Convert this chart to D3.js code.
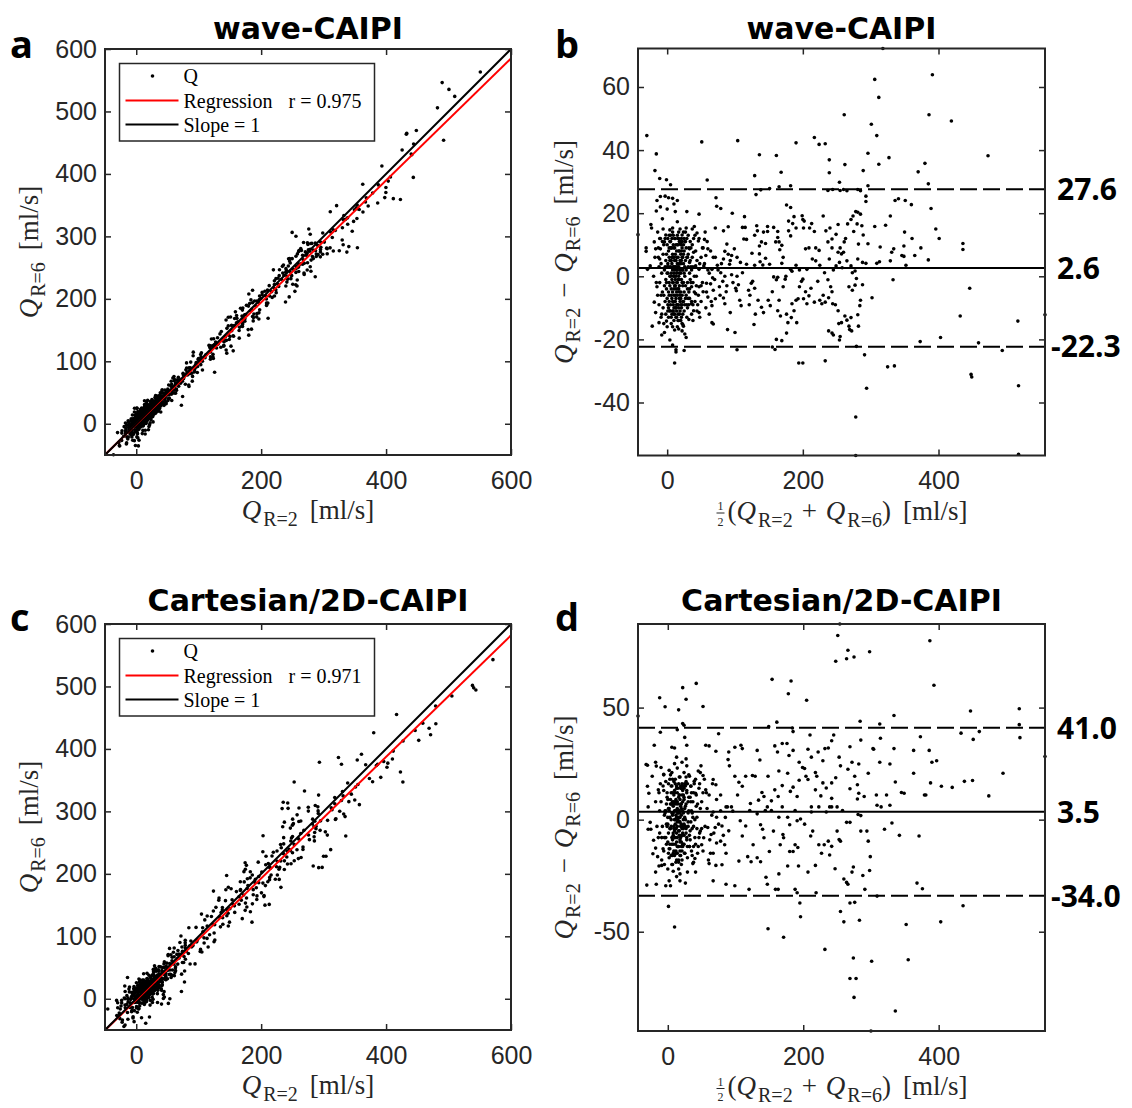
<!DOCTYPE html>
<html>
<head>
<meta charset="utf-8">
<script src="https://cdn.jsdelivr.net/npm/d3@7"></script>
<style>
  body { margin: 0; background: #fff; }
  .axis text { font-family: "Liberation Sans", Arial, sans-serif; font-size: 25px; fill: #262626; }
  .axis line { stroke: #262626; stroke-width: 1.5; }
  .frame { fill: none; stroke: #262626; stroke-width: 2; }
  .title { font-family: "DejaVu Sans", sans-serif; font-weight: 700; font-size: 30px; fill: #000; }
  .letter { font-family: "Open Sans", sans-serif; font-weight: 700; font-size: 38px; fill: #000; }
  .limit { font-family: "Open Sans", sans-serif; font-weight: 700; font-size: 30px; fill: #000; }
  .math { font-family: "Liberation Serif", "DejaVu Serif", serif; font-size: 27px; fill: #262626; }
  .frac { font-family: "Liberation Serif", "DejaVu Serif", serif; font-size: 12px; fill: #262626; }
  .legend text { font-family: "Liberation Serif", "DejaVu Serif", serif; font-size: 20px; fill: #000; }
</style>
</head>
<body>
<div id="chart"></div>
<script>

const baWave = [
  // above upper limit
  [-30,44.6],[-16,38.8],[-18,33.5],[-11,31],[-1,30.6],[5,29],[-43,13.2],[51,42.6],[59,30.5],[104,43],
  [136,38.5],[161,38.3],[168,33],[129,31.9],[190,42.3],[217,44],[224,41.8],[233,42],[239,36.9],[239,32.8],
  [261,51.2],[262,35.4],[254,29.8],[289,33.5],[296,39],[301,48.2],[306,62.4],[309,44.6],[312,56.7],[312,35.5],
  [296,28.7],[327,37.6],[386,51.2],[391,63.9],[380,35.8],[370,33.1],[385,29.3],[419,49.2],[473,38.2],[318,72.2],
  [138,27.4],[151,27.8],[165,28.4],[182,28.7],[237,27.2],[244,27.5],[255,27.2],[260,27.5],[265,27.1],[285,27.1],
  [281,27.5],[293,25.4],[293,23.7],
  // between mean and upper limit
  [-31,7.9],[-31,9],[-24,16.4],[-23,15.3],[-19,10.9],[-17,8.7],[-15,24],[-16,20.7],[-14,14],[-10,22],
  [-7,18.2],[-10,25.3],[-3,25.4],[2,24.9],[8,24.7],[10,22.9],[15,24],[12,20.5],[0,21.3],[29,20.5],
  [37,15],[40,15.8],[47,19.7],[55,11.7],[60,8.7],[57,6.6],[72,24.9],[73,22.2],[79,21.5],[71,15.3],
  [83,14.4],[90,15.7],[96,20],[88,10.2],[85,7.9],[95,6.6],[99,8.7],[114,18.9],[111,15.5],[115,15.5],
  [113,11.8],[117,11.7],[129,13],[131,25.9],[125,7.3],[132,16],[133,14.4],[136,9.6],[136,7.1],[139,10.9],
  [142,14],[148,14.2],[145,10.4],[148,15.8],[157,15.5],[160,10.9],[163,14.2],[163,12.3],[165,10.9],[166,8.4],
  [169,9.8],[171,6],[176,22.6],[182,21.8],[179,17.5],[179,14.4],[182,12.8],[185,16.7],[187,18.9],[190,15.3],
  [199,19.2],[200,18],[201,15.3],[202,17.5],[204,8.7],[209,9],[210,15.3],[213,16.7],[217,14.2],[219,9],
  [224,8.2],[230,19.1],[234,14.4],[237,10.9],[240,15.3],[243,11.8],[243,9],[249,13.3],[252,16.4],[252,7.6],
  [255,9],[260,7.6],[257,7.1],[261,10.9],[263,12],[266,16.6],[271,18],[274,19.1],[278,20.5],[281,20.3],
  [285,19.7],[287,16],[289,13.1],[275,14.2],[280,16.6],[282,10.2],[296,10.3],[306,15.8],[314,9.3],[322,16.2],
  [329,19.1],[331,7.6],[334,8.7],[336,24],[341,24.6],[349,9.6],[350,14],[351,24],[360,22.7],[349,6.3],
  [361,12],[374,9],[396,15],[401,12],[436,10.4],[436,8.5],[389,21.5],[385,5.2],[365,6.6],[352,3.5],
  // around the mean
  [47,2.2],[54,3.3],[60,2],[66,2.2],[74,3.5],[79,1.1],[92,3.8],[95,0.5],[103,0],[108,4.4],
  [111,1.1],[117,3.8],[129,3.5],[137,4.6],[141,3.6],[145,5.7],[151,3.8],[157,-0.2],[163,-0.3],[169,4.1],
  [175,0],[182,2.2],[184,1.6],[190,3.5],[195,2],[200,-0.9],[206,2.2],[214,5.5],[219,4.9],[225,3.5],
  [232,1.1],[239,5.5],[245,2],[249,3.3],[254,4.4],[258,2.7],[265,4.9],[271,3.3],[273,1.1],[277,1.7],
  [281,5.5],[288,4.4],[293,4.1],[309,4.1],[313,4.6],[329,4.9],[346,6.6],
  // below the mean
  [47,-3.3],[53,-4.9],[58,-2.2],[60,-6.6],[66,-9.3],[68,-4.4],[71,-7.1],[77,-3.3],[82,-1.6],[85,-8.7],
  [87,-4.9],[66,-14.7],[68,-15.1],[89,-16.9],[93,-11.5],[100,-17.8],[101,-3.8],[102,-4.6],[105,-2.7],[107,-7.6],
  [109,-9.3],[120,-4.4],[122,-6],[124,-2.2],[126,-1.6],[129,-3.8],[130,-12],[128,-15.3],[121,-9],[134,-7.6],
  [139,-9.8],[142,-11.5],[149,-7.6],[152,-9.3],[155,-4.9],[161,-1.1],[165,-7.6],[163,-10.9],[167,-12.6],[171,-3.3],
  [174,-0.9],[176,-12],[178,-14.7],[176,-18],[183,-13.1],[184,-8.7],[187,-10.9],[191,-14.7],[190,-7.6],[193,-7.1],
  [195,-3.3],[198,-1.6],[201,-7.1],[204,-4.9],[206,-8.7],[209,-6.2],[212,-3.8],[217,-8.2],[222,-1.6],[225,-7.6],
  [228,-8.7],[230,-6],[233,-8.2],[237,-1.1],[238,-6.8],[241,-3.3],[243,-4.9],[244,-8.7],[248,-9],[252,-10.9],
  [238,-17.3],[243,-18],[245,-18.6],[254,-20.2],[255,-19.1],[253,-15],[257,-14.7],[262,-12.6],[265,-13.9],[268,-15.8],
  [269,-16.9],[272,-17.3],[271,-13.1],[268,-3.3],[273,-4.4],[277,-2.8],[279,-0.7],[281,-12.2],[284,-9.3],[285,-7.6],
  [282,-15.8],[288,-2.7],[302,-6.8],[333,-1.1],[446,-3.8],[432,-12.6],[403,-19.4],[373,-20.7],[459,-21.1],[494,-23.5],
  [517,-14.2],[557,-12.2],[448,-31.1],[449,-31.9],[518,-34.7],[518,-56.4],[194,-27.5],[200,-27.5],[233,-26.8],[155,-22.4],
  [161,-20],[169,-20.4],[159,-23.2],[103,-23.3],[279,-22.2],[291,-24.9],[294,-35.5],[278,-44.6],[278,-56.8],[325,-28.7],
  [335,-28.4],
  // low-flow cluster, outer points
  [-22,-15.8],[-19,-8.2],[-17,-11.5],[-15,-3.3],[-20,0],[-25,3.3],[-29,2.2],[-12,-14.7],[-8,-12],[-8,-18.6],
  [-4,-17.8],[4,-20.2],[8,-21.8],[11,-27.5],[13,-24],[13,-23.3],[25,-23.5],[28,-19.4],[26,-18.3],[24,-15.8],
  [32,-13.7],[39,-10.9],[47,-11.5],[36,-8.7],[23,-15.3],[17,-16.7],[22,-17.3],[-1,-14.2],[4,-10.9],[28,15.3],
  [22,13.1],[17,12],[4,14.7],[-2,13.1],[-4,10.9],[-10,8.7],[-11,5.5],[1,12],[8,15.3],[15,17.3],
  [20,10.4],[33,8.7],[39,7.6],[33,4.4],[42,3.3],[43,0],[36,-3.3],[42,-5.5],
  [46,11.2],[59,11],[64,8],[71,6],[83,5.5],[93,5],[103,6],[64,-2.4],[67,-0.5],[83,-6.9],
  [50,6],[52,-2],[55,4],[58,-5],[62,1],[65,-8],[68,6],[70,-1],[75,2],[78,-6],
  [80,4],[85,0],[88,-3],[90,7],[97,-2],[50,-8],[53,9],[57,-10],[44,13.7],[48,-13],[56,14],[62,-12],
  [-14,-6],[-12,3],[-9,-13],[-7,11],[-5,-15],[-13,9],[-16,-2],[-18,6],[46,-6],[48,4],
  [50,-3],[52,9],[44,-11],[47,12],[-6,15],[0,-16],[38,-14],[41,13],[-9,-6],[-11,12],
  // low-flow cluster, core
  [2,-5],[5,3],[8,-2],[10,6],[12,-8],[14,1],[6,9],[9,-11],[15,4],[18,-3],[20,7],[22,-6],[11,2],[13,-4],[16,10],
  [7,-7],[4,0],[3,6],[17,-10],[19,2],[21,-1],[24,4],[26,-9],[25,8],[23,-12],[1,-9],[0,3],[-2,5],[-4,-3],[-6,7],
  [-8,1],[-3,-8],[28,2],[30,-4],[27,11],[29,6],[31,-7],[33,1],[35,-2],[32,9],[10,-14],[12,12],[14,-13],[8,14],
  [6,-13],[16,-12],[18,11],[20,-14],[9,0],[11,-3],[13,5],[15,-6],[17,3],[19,-8],[21,5],[7,4],[5,-9],[3,-2],[2,8],
  [4,11],[6,-4],[8,7],[10,-6],[12,3],[14,8],[16,-1],[18,-5],[20,1],[22,9],[24,-2],[26,3],[9,-9],[11,9],[13,-10],
  [15,13],[17,-14],[19,-11],[21,12],[23,6],[25,-5],[27,-7],[10,1],[12,-1],[14,-5],[16,6],[18,4],[13,-7],[11,5],
  [9,3],[7,-1],[5,5],[3,-6],[1,1],[-1,-4],[-5,10],[-7,-5],[-9,4],[-11,-2],[-13,6],[-12,-9],[-10,12],[30,-10],
  [34,5],[36,-8],[38,3],[40,-5],[37,10],[29,-13],[31,13],[24,14],[22,-15],[15,-16],[11,-17],[19,15],[8,-16],[5,13],
  [2,-13],[0,10],[-2,-12],[14,2],[12,7],[10,-10],[16,-4],[18,8],[20,-9],[22,2],[17,0],[15,-2],[13,0],[11,-12],
  [9,10],[7,12],[6,1],[4,-11],[3,9],
  [-6,-10],[-5,-6],[-4,2],[-3,12],[-2,-1],[-1,7],[0,-7],[1,4],[2,-10],[3,13],[4,-3],[5,9],[6,-15],[7,6],[8,-5],
  [9,13],[10,-12],[11,0],[12,-6],[13,10],[14,-9],[15,2],[16,-14],[17,8],[18,-1],[19,11],[20,-5],[21,-10],[22,6],
  [23,-3],[24,10],[25,-11],[26,0],[27,5],[28,-6],[29,12],[30,-2],[31,7],[32,-9],[33,-4],[34,11],[35,3],[36,-12],
  [37,6],[38,-2],[39,12],[40,0],[41,-8],[42,8],[43,-3],[44,5],[45,-9],
  [0,1],[2,3],[4,5],[6,-6],[8,-8],[10,3],[12,-10],[14,6],[16,3],[18,-12],[20,4],[22,-9],[24,-8],[26,11],[28,9],
  [30,6],[32,-5],[34,-1],[36,2],[38,-9],[-3,3],[-1,-2],[1,-11],[3,-8],[5,0],[7,9],[9,-2],[11,-8],[13,3],[15,10],
  [17,-4],[19,-6],[21,8],[23,2],[25,1],[27,-3],[29,-9],[31,3],[33,-7],[35,9],
  [5,11],[7,-12],[9,6],[11,12],[13,-13],[15,-9],[17,14],[19,5],[21,-13],[23,-8],[25,12],[27,14],[8,2],[10,9],
  [12,-3],[14,-11],[16,12],[18,-7],[20,10],[22,-2],[6,5],[8,-11],[10,-4],[12,5],[14,-2],[16,-9],[18,1],[20,-7],
  [22,11],[24,7]
];

const baCart = [
  // above upper limit
  [254,87.3],[251,82.2],[248,70.7],[266,75.6],[275,72.6],[264,71.8],[298,74.9],[387,79.8],[393,60],[154,62.6],
  [182,61.9],[178,56.2],[205,53.3],[22,58.9],[42,60.8],[27,53.7],[-12,54.4],[-4,50.4],[16,49],[52,50.5],
  [-44,46.2],[447,48.5],[519,49.5],[519,42.4],[520,36.6],[557,28.2],[460,39.3],[433,38.6],[451,35.8],[334,46.5],
  [313,42.7],[314,36.3],[284,43.9],[373,37],[161,43.5],[149,41.5],[184,40.9],[185,39.3],[22,42.9],[24,42.1],
  // between mean and upper limit
  [25,36.7],[28,33.2],[14,40.1],[-11,39],[-20,33.2],[6,32.3],[10,32],[-32,24.6],[-17,23.9],[56,33.2],
  [61,32.9],[71,30.5],[75,38.3],[90,30.2],[99,32.3],[108,33.2],[110,31.7],[132,30.9],[136,26.6],[148,19.4],
  [158,32.9],[162,30.2],[169,34],[176,34],[179,28.6],[185,30.9],[194,25.6],[199,23.3],[207,31.4],[210,37.8],
  [212,27.9],[218,21],[222,30.2],[229,26.3],[232,31.7],[237,32],[242,35.2],[245,37.8],[253,27.9],[255,24],
  [269,32.5],[272,25.6],[282,24.8],[285,35.5],[304,31.4],[313,25.6],[328,24.8],[334,31.7],[363,30.9],[363,20.7],
  [386,30.9],[390,25.6],[397,26.3],[495,20.7],[438,17.1],[450,17.5],[404,14.9],[420,14.4],[381,11],[388,16.4],
  [474,10.6],[336,16.8],[349,11.8],[345,12.1],[323,11],[308,11],[296,20.7],[303,31.7],[290,10.3],[280,9.2],
  [280,15.6],[276,19.4],[282,11.8],[266,22.5],[269,13.8],[248,18.7],[242,16.4],[242,9.5],[239,5.7],[234,14.1],
  [229,16.4],[226,10.6],[220,19.4],[218,13.3],[212,5.7],[207,17.9],[204,19.4],[202,22.8],[194,17.6],[191,10.3],
  [185,14.5],[181,12.6],[177,20.7],[169,15.2],[164,21.7],[163,10.3],[158,13.3],[153,8.4],[147,5.7],[142,10.3],
  [139,12.1],[134,8.7],[129,19.4],[125,19.7],[122,7.2],[115,19.4],[110,14.9],[105,16.7],[103,11],[99,19.4],
  [94,5.7],[89,26.8],[91,24],[86,5.7],[78,11],[71,15.6],[67,17.9],[61,11],[56,13.3],[52,19.7],
  [45,21.7],[49,24],[34,14.9],[41,11.8],
  // around the mean
  [67,3.4],[72,1.1],[80,-2.8],[88,5.7],[96,3.8],[107,-0.5],[115,-2.8],[121,4.1],[132,2.6],[137,-2.3],
  [144,4.1],[153,4.1],[164,1.1],[169,5.7],[177,1.1],[180,-2.3],[188,4.1],[191,-0.5],[196,0.3],[202,-2],
  [212,3.4],[223,5.7],[234,3.4],[242,5.7],[250,5.7],[258,4.1],[264,-1.2],[269,-1.2],[281,2.3],[285,1.8],
  [309,6.4],[315,5.7],[328,6.4],[320,-4.3],[331,-1.5],[342,-7],[371,-7.3],[379,11],
  // below the mean
  [59,-3.5],[64,-6.6],[70,-3.5],[72,-10.4],[78,-9.6],[84,-11.2],[86,-15],[67,-15],[61,-19.6],[71,-20.4],
  [80,-20.1],[67,-27.3],[86,-28.8],[99,-29.5],[105,-18.5],[110,-7.3],[118,-16.5],[120,-31.1],[123,-18.8],[126,-11.2],
  [132,-17],[137,-18.8],[140,-4.3],[142,-8.1],[145,-25.7],[147,-28.8],[150,-14.2],[156,-5.1],[159,-31.1],[163,-31.1],
  [164,-24.2],[166,-11.2],[170,-6.6],[171,-8.1],[177,-20.7],[180,-14.2],[185,-14.2],[188,-11.2],[192,-12.4],[193,-20.7],
  [188,-31.1],[191,-32.6],[195,-37.2],[196,-43.3],[207,-23.4],[211,-7.3],[214,-5.1],[218,-20.4],[219,-32.6],[223,-11.2],
  [227,-15],[231,-11.2],[237,-9.6],[239,-15.8],[242,-11.9],[247,-21.9],[250,-5.1],[253,-8.9],[255,-9.6],[255,-41],
  [260,-45.6],[260,-26.5],[264,-28],[266,-28.8],[269,-37.2],[272,-23.4],[274,-21.1],[276,-36.9],[274,-61.7],[278,-70.9],
  [269,-70.9],[275,-79.3],[283,-44.9],[285,-5.1],[291,-31.1],[288,-24.9],[298,-22.7],[294,-5.1],[296,-9.6],[299,-16.5],
  [301,-63.2],[300,-94.3],[309,-34.1],[232,-57.9],[148,-48.7],[171,-52.5],[336,-85.4],[352,-46.8],[355,-62.5],[368,-28.3],
  [376,-30.8],[403,-45.6],[436,-38.4],
  // low-flow cluster, outer points
  [-31,-29.2],[-17,-28.8],[-3,-29.5],[1,-38.7],[10,-47.9],[-18,-23.4],[-13,-20.7],[-18,-12.7],[-22,-15.2],[-25,-4.3],
  [-29,-4.3],[-26,-1.2],[-21,-9.2],[-15,-16.5],[-9,-20.4],[2,-27.3],[4,-29.5],[18,-27.3],[26,-28.3],[13,-25.4],
  [18,-24.2],[29,-23.4],[41,-23.4],[40,-17.3],[37,-19.6],[50,-11.2],[53,-8.1],[48,-5.1],[43,1.1],[-29,5.7],
  [-28,11.8],[-30,14.9],[-30,24.3],[-23,19.4],[-18,25.6],[-14,13.3],[-10,23.3],[-6,20.2],[6,21],[13,27.9],
  [21,25.6],[27,27.1],[28,24],[32,19.4],[39,17.1],[48,21],
  [50,8],[55,-3],[58,5],[62,-9],[65,2],[68,-6],[72,9],[75,-2],[78,4],[82,-7],
  [85,1],[90,-5],[46,14],[52,-14],[57,12],[63,-15],[47,-6],[54,18],[60,-18],[66,16],
  [-14,-8],[-12,4],[-9,-18],[-7,15],[-5,-20],[-13,12],[-16,-3],[-18,8],[46,-8],[48,5],
  [50,-4],[52,12],[44,-15],[47,16],[-6,20],[0,-22],[38,-19],[41,18],[-9,-8],[-11,16],
  // low-flow cluster, core
  [5,-3],[8,6],[10,-8],[12,2],[14,12],[16,-5],[18,9],[20,-12],[22,4],[24,-2],[6,15],[9,-14],[11,18],[13,-10],[15,7],
  [17,-1],[19,14],[21,-7],[23,11],[25,-15],[3,1],[1,-6],[0,9],[-2,-11],[-4,4],[-6,13],[-8,-3],[2,-17],[4,20],[7,-20],
  [26,6],[28,-9],[30,3],[32,-12],[34,8],[36,-4],[38,12],[27,17],[29,-17],[31,20],[10,0],[12,-4],[14,5],[16,10],
  [18,-9],[20,2],[22,-6],[11,8],[13,15],[15,-12],[17,4],[19,-3],[21,16],[9,11],[7,-9],[5,7],[3,-13],[6,3],[8,-6],
  [10,13],[12,-15],[14,-1],[16,-18],[18,19],[20,7],[22,-11],[24,9],[26,-3],[28,13],[11,-2],[13,1],[15,3],[17,-7],
  [19,6],[9,-4],[7,2],[23,0],[25,5],[27,-6],[-1,12],[-3,-8],[-5,2],[-10,8],[-12,-6],[1,16],[2,22],[8,-23],[14,23],
  [16,-22],[20,-20],[24,21],[10,25],[12,-19],[18,-14],[6,-11],[4,9],[2,5],[0,-2],[30,-1],[33,10],[35,-14],[37,1],
  [40,-8],[42,6],[15,0],[13,-6],[11,4],[17,11],[19,-16],[21,-4],[9,7],[7,18],[5,-16],[12,9],[14,-8],[16,1],[18,3],
  [20,-2],[22,13],[24,-7],[3,-4],[-2,7],[-7,-13],
  [-6,-14],[-5,-8],[-4,3],[-3,17],[-2,-2],[-1,10],[0,-10],[1,5],[2,-13],[3,18],[4,-4],[5,12],[6,-20],[7,8],[8,-7],
  [9,17],[10,-16],[11,0],[12,-8],[13,14],[14,-12],[15,3],[16,-19],[17,11],[18,-1],[19,15],[20,-7],[21,-14],[22,8],
  [23,-4],[24,14],[25,-15],[26,0],[27,7],[28,-8],[29,16],[30,-3],[31,10],[32,-12],[33,-5],[34,15],[35,4],[36,-16],
  [37,8],[38,-3],[39,16],[40,0],[41,-11],[42,11],[43,-4],[44,7],[45,-12],
  [0,1],[2,4],[4,7],[6,-8],[8,-11],[10,4],[12,-14],[14,8],[16,4],[18,-16],[20,5],[22,-12],[24,-11],[26,15],[28,12],
  [30,8],[32,-7],[34,-1],[36,3],[38,-12],[-3,4],[-1,-3],[1,-15],[3,-11],[5,0],[7,12],[9,-3],[11,-11],[13,4],[15,14],
  [17,-5],[19,-8],[21,11],[23,3],[25,1],[27,-4],[29,-12],[31,4],[33,-9],[35,12],
  [5,15],[7,-16],[9,8],[11,16],[13,-18],[15,-12],[17,19],[19,7],[21,-18],[23,-11],[25,16],[27,19],[8,3],[10,12],
  [12,-4],[14,-15],[16,16],[18,-10],[20,14],[22,-3],[6,7],[8,-15],[10,-5],[12,7],[14,-3],[16,-12],[18,1],[20,-10],
  [22,15],[24,10]
];

// Regression fits (slope, intercept) and correlation, as printed on the figure
const regWave = [0.976, -0.8];
const rWave = 0.975;
const regCart = [0.973, -1.9];
const rCart = 0.971;

// Bland-Altman lines: mean difference, upper and lower limit of agreement
const linesWave = [2.6, 27.6, -22.3];
const linesCart = [3.5, 41.0, -34.0];

// Axis ranges and ticks
const flowDomain = [-50, 600];
const flowXTicks = [0, 200, 400, 600];
const flowYTicks = [0, 100, 200, 300, 400, 500, 600];
const meanTicks = [0, 200, 400];
const diffTicksWave = [-40, -20, 0, 20, 40, 60];
const diffTicksCart = [-50, 0, 50];

const titles = ["wave-CAIPI", "Cartesian/2D-CAIPI"];

// ==== Layout ====

const svg = d3.select("#chart").append("svg")
    .attr("width", 1132)
    .attr("height", 1108);

const defs = svg.append("defs");
const tickLen = 6;
const dotR = 1.8;

// builds a label with italic Q and subscripts
function mathText(text, parts) {
    parts.forEach(p => {
        const t = text.append("tspan").text(p[0]);
        if (p[1] === "i") t.attr("font-style", "italic");
        if (p[1] === "s") t.attr("font-size", "20px").attr("dy", 7);
        if (p[1] === "u") t.attr("dy", -7);
        if (p[2]) t.attr("dx", p[2]);
    });
    return text;
}

function Panel(x0, y0, w, h, xDomain, yDomain, xTicks, yTicks, id) {
    const g = svg.append("g").attr("transform", `translate(${x0},${y0})`);

    const xScale = d3.scaleLinear().domain(xDomain).range([0, w]);
    const yScale = d3.scaleLinear().domain(yDomain).range([h, 0]);
    const fmt = d => String(d);

    defs.append("clipPath").attr("id", id)
        .append("rect").attr("width", w).attr("height", h);

    g.append("g").attr("class", "axis").attr("transform", `translate(0,${h})`)
        .call(d3.axisBottom(xScale).tickValues(xTicks).tickFormat(fmt).tickSizeInner(-tickLen).tickSizeOuter(0).tickPadding(16));
    g.append("g").attr("class", "axis")
        .call(d3.axisLeft(yScale).tickValues(yTicks).tickFormat(fmt).tickSizeInner(-tickLen).tickSizeOuter(0).tickPadding(8));
    g.append("g").attr("class", "axis")
        .call(d3.axisTop(xScale).tickValues(xTicks).tickFormat("").tickSizeInner(-tickLen).tickSizeOuter(0));
    g.append("g").attr("class", "axis").attr("transform", `translate(${w},0)`)
        .call(d3.axisRight(yScale).tickValues(yTicks).tickFormat("").tickSizeInner(-tickLen).tickSizeOuter(0));
    g.selectAll(".axis .domain").remove();

    const plot = g.append("g");
    const top = g.append("g");
    top.append("rect").attr("class", "frame").attr("width", w).attr("height", h);

    return { g, plot, xScale, yScale, w, h, id };
}

function headings(p, x0, title, letter, titleY, letterX, letterY) {
    p.g.append("text").attr("class", "title").attr("x", p.w / 2).attr("y", titleY)
        .attr("text-anchor", "middle").text(title);
    p.g.append("text").attr("class", "letter").attr("x", letterX - x0).attr("y", letterY).text(letter);
}

// === Scatter panel (Q_R=2 vs Q_R=6) ===
function ScatterPanel(x0, y0, ba, reg, r, title, letter, id, titleY, letterY) {
    const w = 406, h = 406;
    const p = Panel(x0, y0, w, h, flowDomain, flowDomain, flowXTicks, flowYTicks, id);

    const pts = ba.map(([m, d]) => [m + d / 2, m - d / 2])
        .filter(([a, b]) => a >= flowDomain[0] && a <= flowDomain[1] && b >= flowDomain[0] && b <= flowDomain[1]);

    p.plot.selectAll("circle").data(pts).join("circle")
        .attr("cx", d => p.xScale(d[0]))
        .attr("cy", d => p.yScale(d[1]))
        .attr("r", dotR)
        .attr("fill", "#000");

    const line = d3.line().x(d => p.xScale(d[0])).y(d => p.yScale(d[1]));
    const lines = p.plot.append("g").attr("clip-path", `url(#${id})`);
    lines.append("path")
        .attr("d", line(flowDomain.map(x => [x, reg[0] * x + reg[1]])))
        .attr("stroke", "#ff0000").attr("stroke-width", 2).attr("fill", "none");
    lines.append("path")
        .attr("d", line(flowDomain.map(x => [x, x])))
        .attr("stroke", "#000").attr("stroke-width", 2).attr("fill", "none");

    // legend
    const lg = p.g.append("g").attr("class", "legend").attr("transform", "translate(14.5,14.5)");
    lg.append("rect").attr("width", 255).attr("height", 77.5)
        .attr("fill", "#fff").attr("stroke", "#262626").attr("stroke-width", 1.5);
    lg.append("circle").attr("cx", 33).attr("cy", 12.5).attr("r", dotR).attr("fill", "#000");
    lg.append("line").attr("x1", 6).attr("x2", 59).attr("y1", 37).attr("y2", 37)
        .attr("stroke", "#ff0000").attr("stroke-width", 2);
    lg.append("line").attr("x1", 6).attr("x2", 59).attr("y1", 61).attr("y2", 61)
        .attr("stroke", "#000").attr("stroke-width", 2);
    lg.append("text").attr("x", 64).attr("y", 19).text("Q");
    const t2 = lg.append("text").attr("x", 64).attr("y", 44);
    t2.append("tspan").text("Regression");
    t2.append("tspan").attr("x", 169).text(`r = ${r.toFixed(3)}`);
    lg.append("text").attr("x", 64).attr("y", 68).text("Slope = 1");

    // axis labels
    mathText(p.g.append("text").attr("class", "math")
        .attr("x", w / 2).attr("y", 470).attr("text-anchor", "middle"),
        [["Q", "i"], ["R=2", "s", 2], ["[ml/s]", "u", 12]]);
    mathText(p.g.append("text").attr("class", "math")
        .attr("transform", `translate(${38 - x0},${h / 2}) rotate(-90)`).attr("text-anchor", "middle"),
        [["Q", "i"], ["R=6", "s", 2], ["[ml/s]", "u", 12]]);

    headings(p, x0, title, letter, titleY, 10, letterY);
}

// === Bland-Altman panel ===
function BlandAltmanPanel(x0, y0, ba, lines, yTicks, title, letter, id, titleY, letterY) {
    const w = 407, h = 407;
    const xDomain = d3.extent(ba, d => d[0]);
    const yDomain = d3.extent(ba, d => d[1]);
    const p = Panel(x0, y0, w, h, xDomain, yDomain, meanTicks, yTicks, id);

    p.plot.selectAll("circle").data(ba).join("circle")
        .attr("cx", d => p.xScale(d[0]))
        .attr("cy", d => p.yScale(d[1]))
        .attr("r", dotR)
        .attr("fill", "#000");

    p.plot.selectAll("line.ref").data(lines).join("line")
        .attr("class", "ref")
        .attr("x1", 0).attr("x2", w)
        .attr("y1", d => p.yScale(d)).attr("y2", d => p.yScale(d))
        .attr("stroke", "#000").attr("stroke-width", 2)
        .attr("stroke-dasharray", (d, i) => i === 0 ? null : "17,6");

    p.g.selectAll("text.limit").data(lines).join("text")
        .attr("class", "limit")
        .attr("x", d => w + (d < 0 ? 6 : 12))
        .attr("y", d => p.yScale(d))
        .attr("dy", "0.36em")
        .text(d => d.toFixed(1));

    // x label: 1/2 (Q_R=2 + Q_R=6) [ml/s]
    const xl = p.g.append("g");
    const main = mathText(xl.append("text").attr("class", "math").attr("x", 12),
        [["(", ""], ["Q", "i"], ["R=2", "s", 2], ["+", "u", 9], ["Q", "i", 9], ["R=6", "s", 2], [")", "u"], ["[ml/s]", "", 12]]);
    const tw = main.node().getComputedTextLength() + 12 + 34;
    xl.attr("transform", `translate(${w / 2 - tw / 2},${h + 64})`);
    const frac = xl.append("text").attr("class", "frac").attr("text-anchor", "middle");
    frac.append("tspan").attr("x", 5).attr("y", -9.5).text("1");
    frac.append("tspan").attr("x", 5).attr("y", 6).text("2");
    xl.append("line").attr("x1", 1).attr("x2", 9).attr("y1", -6.5).attr("y2", -6.5)
        .attr("stroke", "#262626").attr("stroke-width", 1);

    mathText(p.g.append("text").attr("class", "math")
        .attr("transform", `translate(${573 - x0},${h / 2}) rotate(-90)`).attr("text-anchor", "middle"),
        [["Q", "i"], ["R=2", "s", 2], ["\u2212", "u", 10], ["Q", "i", 10], ["R=6", "s", 2], ["[ml/s]", "u", 12]]);

    headings(p, x0, title, letter, titleY, 555, letterY);
}

ScatterPanel(105, 49, baWave, regWave, rWave, titles[0], "a", "clipA", -10, 9);
BlandAltmanPanel(638, 48.5, baWave, linesWave, diffTicksWave, titles[0], "b", "clipB", -9.5, 9.5);
ScatterPanel(105, 624, baCart, regCart, rCart, titles[1], "c", "clipC", -13, 7);
BlandAltmanPanel(638, 624, baCart, linesCart, diffTicksCart, titles[1], "d", "clipD", -13, 7);

</script>
</body>
</html>
